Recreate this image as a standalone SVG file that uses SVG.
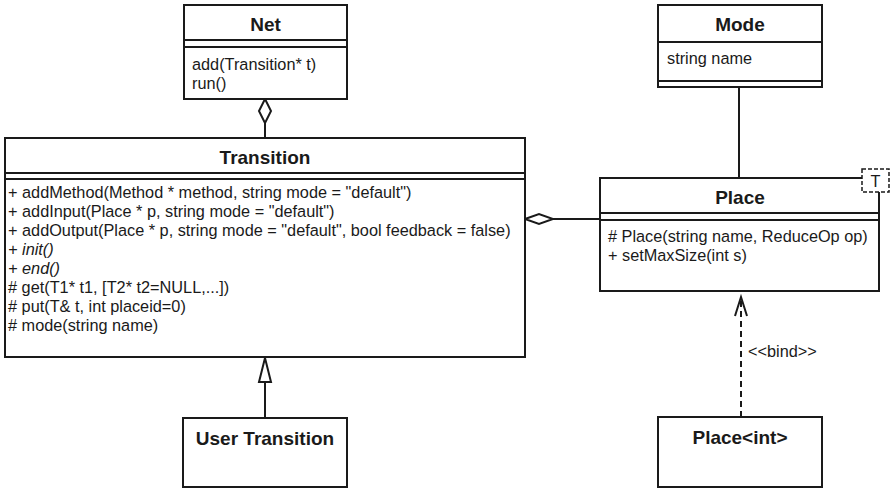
<svg xmlns="http://www.w3.org/2000/svg" width="890" height="489" viewBox="0 0 890 489">
<style>
.box{fill:#fff;stroke:#1a1a1a;stroke-width:2}
.ln{stroke:#1a1a1a;stroke-width:2;fill:none}
.t{font-family:"Liberation Sans",Arial,sans-serif;font-size:16.3px;fill:#1a1a1a}
.i{font-style:italic}
.h{font-family:"Liberation Sans",Arial,sans-serif;font-size:19px;font-weight:bold;fill:#1a1a1a;text-anchor:middle}
</style>
<rect width="890" height="489" fill="#fff"/>
<g id="connectors">
<path class="ln" d="M265,123 V138"/>
<path d="M265,99 L271,111 L265,123 L259,111 Z" fill="#fff" stroke="#1a1a1a" stroke-width="2"/>
<path class="ln" d="M553,219 H600"/>
<path d="M525,219 L539,214 L553,219 L539,224 Z" fill="#fff" stroke="#1a1a1a" stroke-width="2"/>
<path class="ln" d="M739,87 V178"/>
<path class="ln" d="M265,418 V382"/>
<path d="M265,358 L271,382 L259,382 Z" fill="#fff" stroke="#1a1a1a" stroke-width="2"/>
<path class="ln" d="M741,417 V299" stroke-dasharray="6,4"/>
<path d="M735,316 L741,297 L747,316" fill="none" stroke="#1a1a1a" stroke-width="2"/>
<text class="t" x="748" y="357">&lt;&lt;bind&gt;&gt;</text>
</g>
<g id="net">
<rect class="box" x="184" y="5" width="163" height="94"/>
<path class="ln" d="M184,40 H347 M184,47 H347"/>
<text class="h" x="265.5" y="31">Net</text>
<text class="t" x="192" y="70">add(Transition* t)</text>
<text class="t" x="192" y="89">run()</text>
</g>
<g id="transition">
<rect class="box" x="5" y="138" width="520" height="219"/>
<path class="ln" d="M5,173 H525 M5,179 H525"/>
<text class="h" x="265" y="164">Transition</text>
<text class="t" x="8" y="198">+ addMethod(Method * method, string mode = "default")</text>
<text class="t" x="8" y="217">+ addInput(Place * p, string mode = "default")</text>
<text class="t" x="8" y="236">+ addOutput(Place * p, string mode = "default", bool feedback = false)</text>
<text class="t i" x="8" y="255">+ init()</text>
<text class="t i" x="8" y="274">+ end()</text>
<text class="t" x="8" y="293"># get(T1* t1, [T2* t2=NULL,...])</text>
<text class="t" x="8" y="312"># put(T&amp; t, int placeid=0)</text>
<text class="t" x="8" y="331"># mode(string name)</text>
</g>
<g id="mode">
<rect class="box" x="658" y="5" width="164" height="82"/>
<path class="ln" d="M658,42 H822 M658,81 H822"/>
<text class="h" x="740" y="31">Mode</text>
<text class="t" x="667" y="64">string name</text>
</g>
<g id="place">
<path class="box" d="M862,178 H600 V291 H879 V192"/>
<path class="ln" d="M600,213 H879 M600,220 H879"/>
<text class="h" x="740" y="204">Place</text>
<text class="t" x="608" y="242"># Place(string name, ReduceOp op)</text>
<text class="t" x="608" y="261">+ setMaxSize(int s)</text>
<rect x="862" y="169" width="27" height="23" fill="#fff" stroke="#1a1a1a" stroke-width="1.5" stroke-dasharray="4,2"/>
<text class="t" x="875.5" y="187" text-anchor="middle">T</text>
</g>
<g id="user-transition">
<rect class="box" x="183" y="418" width="164" height="69"/>
<text class="h" x="265" y="445">User Transition</text>
</g>
<g id="place-int">
<rect class="box" x="658" y="417" width="164" height="70"/>
<text class="h" x="740" y="444">Place&lt;int&gt;</text>
</g>
</svg>
